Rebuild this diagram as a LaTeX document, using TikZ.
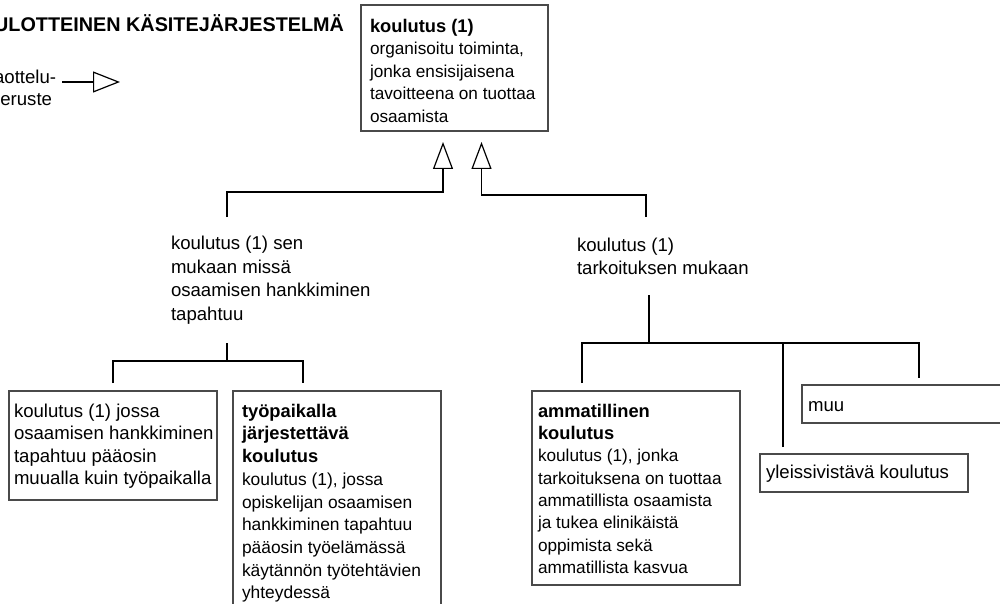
\documentclass[tikz,border=0pt]{standalone}
\usepackage{fontspec}
\setmainfont{Liberation Sans}
\usetikzlibrary{arrows.meta}
\definecolor{boxgray}{HTML}{4A4A4A}
\newcommand\termhead[1]{{\fontsize{18.3}{22.5}\selectfont\bfseries #1}}
\begin{document}
\begin{tikzpicture}[x=1pt,y=-1pt,
  every node/.style={font=\fontsize{18.6}{22.5}\selectfont, inner sep=0pt, outer sep=0pt},
  smallfont/.style={font=\fontsize{17.2}{22.5}\selectfont},
  boxnode/.style={draw=boxgray, line width=1.2pt, anchor=north west},
  txt/.style={anchor=north west, align=left},
  con/.style={line width=1.2pt, draw=black},
  isa/.style={con, -{Triangle[open, length=27pt, width=20pt, line width=1.2pt]}},
  isasmall/.style={con, -{Triangle[open, length=27pt, width=21pt, line width=1.2pt]}}
]
\useasboundingbox (0,0) rectangle (1000,604);
\clip (0,0) rectangle (1000,604);

% title and legend
\node[anchor=base east, font=\fontsize{19.8}{22}\selectfont\bfseries] (title) at (344,32) {ULOTTEINEN KÄSITEJÄRJESTELMÄ};
\node[txt] (crit) at (-10,70) {jaottelu-\\peruste};
\coordinate (critA) at (62,82);
\coordinate (critB) at (120,82);
\draw[isasmall] (critA) -- (critB);

% top concept
\node[boxnode, minimum width=187pt, minimum height=126pt] (top) at (361,5) {};
\node[txt, smallfont] (toptxt) at (370,19) {\termhead{koulutus (1)}\\organisoitu toiminta,\\jonka ensisijaisena\\tavoitteena on tuottaa\\osaamista};
\coordinate (tip1) at (443,142);
\coordinate (tip2) at (481.5,142);

% criteria texts
\node[txt, font=\fontsize{18.6}{23.6}\selectfont] (midL) at (171,236) {koulutus (1) sen\\mukaan missä\\osaamisen hankkiminen\\tapahtuu};
\node[txt, font=\fontsize{18.6}{23.2}\selectfont] (midR) at (577,238) {koulutus (1)\\tarkoituksen mukaan};
\coordinate (midLup) at (227,217);
\coordinate (midRup) at (646,217);
\draw[isa] (midLup) -- (227,192) -| (tip1);
\draw[isa] (midRup) -- (646,195) -| (tip2);

% left subtree
\node[boxnode, minimum width=208pt, minimum height=109pt] (L1) at (9,391) {};
\node[txt] (L1txt) at (14,404) {koulutus (1) jossa\\osaamisen hankkiminen\\tapahtuu pääosin\\muualla kuin työpaikalla};
\node[boxnode, minimum width=208pt, minimum height=230pt] (L2) at (233,391) {};
\node[txt, font=\fontsize{17.4}{22.7}\selectfont] (L2txt) at (242,404) {\termhead{työpaikalla}\\\termhead{järjestettävä}\\\termhead{koulutus}\\koulutus (1), jossa\\opiskelijan osaamisen\\hankkiminen tapahtuu\\pääosin työelämässä\\käytännön työtehtävien\\yhteydessä};
\coordinate (ljA) at (227,343);
\coordinate (ljB) at (227,361);
\coordinate (l1end) at (113,383);
\coordinate (l2end) at (303,383);
\draw[con] (ljA) -- (ljB);
\draw[con] (l1end) |- (ljB) -| (l2end);

% right subtree
\node[boxnode, minimum width=208pt, minimum height=194pt] (A) at (532,391) {};
\node[txt, font=\fontsize{17.2}{22.3}\selectfont] (Atxt) at (538,404) {\termhead{ammatillinen}\\\termhead{koulutus}\\koulutus (1), jonka\\tarkoituksena on tuottaa\\ammatillista osaamista\\ja tukea elinikäistä\\oppimista sekä\\ammatillista kasvua};
\node[boxnode, minimum width=208pt, minimum height=38pt] (Y) at (760,454) {};
\node[anchor=base west] (Ytxt) at (766,478) {yleissivistävä koulutus};
\node[boxnode, minimum width=208pt, minimum height=38pt] (M) at (802,385) {};
\node[anchor=base west] (Mtxt) at (808,411) {muu};
\coordinate (rjA) at (649,295);
\coordinate (rjB) at (649,343);
\coordinate (aend) at (582,383);
\coordinate (yend) at (783,447);
\coordinate (mend) at (919,378);
\draw[con, line width=2pt] (rjA) -- (rjB);
\draw[con] (aend) |- (rjB) -| (mend);
\draw[con] (yend) -- (yend |- rjB);
\end{tikzpicture}
\end{document}
